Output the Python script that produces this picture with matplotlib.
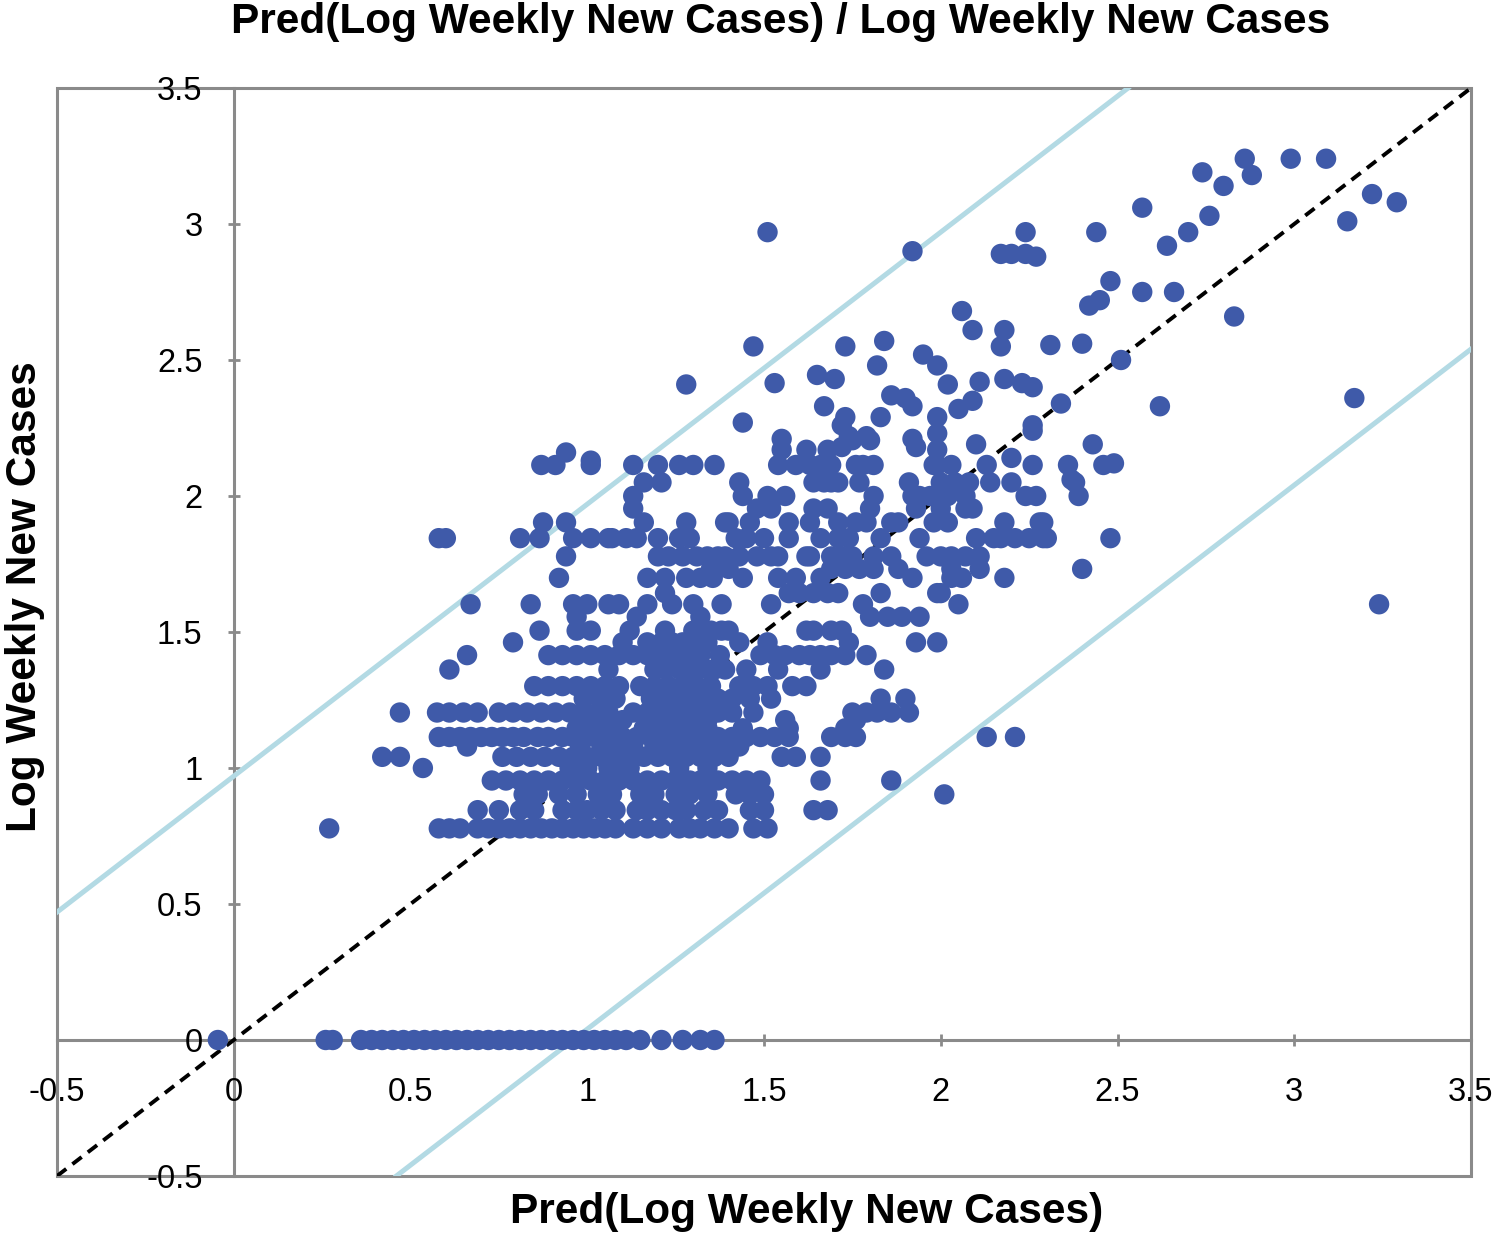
import numpy as np
import matplotlib
matplotlib.use("Agg")
import matplotlib.pyplot as plt
from matplotlib.patches import Rectangle

plt.rcParams['font.family'] = ['Liberation Sans', 'DejaVu Sans']

# ---------------- data ----------------
title = "Pred(Log Weekly New Cases) / Log Weekly New Cases"
x_label = "Pred(Log Weekly New Cases)"
y_label = "Log Weekly New Cases"
tick_values = [-0.5, 0, 0.5, 1, 1.5, 2, 2.5, 3, 3.5]
tick_labels = ["-0.5", "0", "0.5", "1", "1.5", "2", "2.5", "3", "3.5"]
band_offsets = [0.97, -0.96]   # light blue limits: obs = pred + offset

# observed level 0 (zero cases)
pred_obs_0 = [-0.045, 0.26, 0.28, 0.36, 0.39, 0.42, 0.45, 0.48, 0.51, 0.54, 0.57,
              0.60, 0.63, 0.66, 0.69, 0.72, 0.75, 0.78, 0.81, 0.84, 0.87, 0.90,
              0.93, 0.96, 0.99, 1.02, 1.05, 1.08, 1.11, 1.15, 1.21, 1.27, 1.32, 1.36]

# observed levels (log10 of small counts) and predictions at each level
obs_levels = [0.778, 0.845, 0.903, 0.954, 1.0, 1.041, 1.079, 1.114, 1.146, 1.176,
              1.204, 1.255, 1.301, 1.362, 1.415, 1.462, 1.505, 1.556, 1.602, 1.643,
              1.699, 1.732, 1.778, 1.845, 1.903, 1.954, 2.0, 2.05, 2.114]
pred_0778 = [0.27, 0.58, 0.61, 0.64, 0.69, 0.72, 0.75, 0.78, 0.81, 0.84, 0.87, 0.90,
             0.93, 0.96, 0.99, 1.02, 1.05, 1.08, 1.13, 1.17, 1.21, 1.26, 1.29, 1.32,
             1.36, 1.40, 1.47, 1.51]
pred_0845 = [0.69, 0.75, 0.81, 0.85, 0.93, 0.97, 1.00, 1.04, 1.08, 1.14, 1.17, 1.21,
             1.25, 1.28, 1.33, 1.37, 1.46, 1.50, 1.64, 1.68]
pred_0903 = [0.82, 0.86, 0.92, 0.97, 1.03, 1.07, 1.15, 1.19, 1.25, 1.29, 1.34, 1.42,
             1.46, 1.50, 2.01]
pred_0954 = [0.73, 0.77, 0.81, 0.85, 0.89, 0.93, 0.97, 1.01, 1.05, 1.09, 1.13, 1.17,
             1.21, 1.25, 1.29, 1.32, 1.37, 1.41, 1.45, 1.49, 1.66, 1.86]
pred_1000 = [0.535, 0.95, 1.00, 1.06, 1.09, 1.12, 1.26, 1.34]
pred_1041 = [0.42, 0.47, 0.76, 0.80, 0.84, 0.88, 0.92, 0.96, 1.00, 1.04, 1.08, 1.12,
             1.16, 1.20, 1.24, 1.28, 1.32, 1.36, 1.40, 1.55, 1.59, 1.66]
pred_1079 = [0.66, 0.98, 1.04, 1.07, 1.10, 1.13, 1.19, 1.23, 1.27, 1.30, 1.33, 1.36,
             1.39, 1.43]
pred_1114 = [0.58, 0.61, 0.64, 0.67, 0.70, 0.73, 0.76, 0.79, 0.82, 0.86, 0.89, 0.93,
             0.96, 1.00, 1.03, 1.06, 1.10, 1.14, 1.18, 1.22, 1.26, 1.30, 1.37, 1.41,
             1.45, 1.49, 1.53, 1.57, 1.69, 1.73, 1.76, 2.13, 2.21]
pred_1146 = [0.97, 1.01, 1.05, 1.08, 1.16, 1.21, 1.24, 1.27, 1.29, 1.31, 1.34, 1.44,
             1.57, 1.73]
pred_1176 = [0.98, 1.02, 1.06, 1.10, 1.17, 1.20, 1.25, 1.28, 1.31, 1.34, 1.56, 1.76]
pred_1204 = [0.47, 0.575, 0.61, 0.65, 0.69, 0.75, 0.79, 0.83, 0.87, 0.91, 0.95, 0.99,
             1.03, 1.06, 1.13, 1.17, 1.21, 1.25, 1.29, 1.33, 1.37, 1.41, 1.47, 1.75,
             1.79, 1.82, 1.86, 1.91]
pred_1255 = [0.99, 1.035, 1.08, 1.18, 1.21, 1.23, 1.26, 1.28, 1.31, 1.33, 1.37, 1.41,
             1.46, 1.52, 1.83, 1.90]
pred_1301 = [0.85, 0.89, 0.93, 0.97, 1.01, 1.05, 1.09, 1.15, 1.19, 1.23, 1.27, 1.31,
             1.35, 1.43, 1.47, 1.51, 1.58, 1.62]
pred_1362 = [0.61, 1.06, 1.19, 1.22, 1.26, 1.29, 1.31, 1.34, 1.36, 1.39, 1.45, 1.54,
             1.66, 1.84]
pred_1415 = [0.66, 0.89, 0.93, 0.97, 1.01, 1.05, 1.09, 1.13, 1.17, 1.21, 1.24, 1.28,
             1.32, 1.375, 1.49, 1.53, 1.56, 1.60, 1.63, 1.66, 1.69, 1.73, 1.79]
pred_1462 = [0.79, 1.10, 1.17, 1.21, 1.24, 1.27, 1.31, 1.34, 1.43, 1.51, 1.74, 1.93,
             1.99]
pred_1505 = [0.865, 0.97, 1.01, 1.12, 1.22, 1.30, 1.35, 1.38, 1.40, 1.62, 1.64, 1.69,
             1.72]
pred_1556 = [0.97, 1.14, 1.32, 1.80, 1.85, 1.89, 1.94]
pred_1602 = [0.67, 0.84, 0.96, 1.00, 1.06, 1.09, 1.17, 1.24, 1.30, 1.38, 1.52, 1.78,
             2.05, 3.24]
pred_1643 = [1.22, 1.57, 1.60, 1.64, 1.68, 1.71, 1.83, 1.99, 2.00]
pred_1699 = [0.92, 1.17, 1.22, 1.28, 1.32, 1.355, 1.44, 1.54, 1.59, 1.66, 1.92, 2.03,
             2.06, 2.18]
pred_1732 = [1.35, 1.40, 1.69, 1.73, 1.77, 1.81, 1.88, 2.03, 2.11, 2.40]
pred_1778 = [0.94, 1.20, 1.23, 1.27, 1.31, 1.34, 1.37, 1.39, 1.43, 1.48, 1.52, 1.54,
             1.62, 1.63, 1.69, 1.72, 1.75, 1.81, 1.86, 1.96, 2.00, 2.03, 2.07, 2.11]
pred_1845 = [0.58, 0.60, 0.81, 0.865, 0.96, 1.01, 1.06, 1.07, 1.11, 1.14, 1.20, 1.26,
             1.29, 1.42, 1.45, 1.50, 1.57, 1.66, 1.71, 1.74, 1.83, 1.94, 2.10, 2.15,
             2.17, 2.21, 2.25, 2.29, 2.30, 2.48]
pred_1903 = [0.875, 0.94, 1.16, 1.28, 1.39, 1.40, 1.46, 1.57, 1.63, 1.71, 1.76, 1.79,
             1.86, 1.88, 1.98, 2.02, 2.18, 2.28, 2.29]
pred_1954 = [1.13, 1.48, 1.52, 1.64, 1.68, 1.80, 1.93, 2.00, 2.07, 2.09]
pred_2000 = [1.13, 1.44, 1.51, 1.56, 1.81, 1.92, 1.94, 1.97, 2.02, 2.07, 2.24, 2.27,
             2.39]
pred_2050 = [1.16, 1.21, 1.43, 1.64, 1.67, 1.69, 1.71, 1.77, 1.91, 2.00, 2.04, 2.08,
             2.14, 2.20, 2.38]
pred_2114 = [0.87, 0.91, 1.01, 1.13, 1.20, 1.26, 1.30, 1.36, 1.54, 1.59, 1.63, 1.66,
             1.69, 1.76, 1.78, 1.81, 1.98, 1.99, 2.03, 2.13, 2.26, 2.36, 2.46]

# sparse upper points (pred, observed)
upper_pred = [0.94, 1.01, 1.55, 1.62, 1.68, 1.72, 1.93, 1.99, 2.10, 2.20, 2.37, 2.49,
              1.55, 1.74, 1.75, 1.79, 1.80, 1.92, 1.99, 2.26, 2.43,
              1.44, 1.72, 1.73, 1.83, 1.99, 2.26, 1.67, 1.86, 1.90, 1.92, 2.34, 2.62,
              3.17, 2.05, 2.09, 1.28, 1.53, 1.65, 1.70, 2.02, 2.11, 2.18, 2.23, 2.26,
              1.47, 1.73, 1.84, 1.82, 1.95, 1.99, 2.51, 2.17, 2.31, 2.40, 2.06, 2.09,
              2.18, 2.83, 2.42, 2.45, 2.48, 2.57, 2.66, 1.92, 2.17, 2.20, 2.24, 2.27,
              1.51, 2.24, 2.44, 2.64, 2.70, 2.57, 2.76, 3.15, 3.22, 3.29, 2.74, 2.80,
              2.88, 2.86, 2.99, 3.09]
upper_obs = [2.16, 2.13, 2.17, 2.17, 2.17, 2.18, 2.18, 2.17, 2.19, 2.14, 2.06, 2.12,
             2.21, 2.22, 2.205, 2.22, 2.205, 2.21, 2.23, 2.24, 2.19,
             2.27, 2.26, 2.29, 2.29, 2.29, 2.26, 2.33, 2.37, 2.36, 2.33, 2.34, 2.33,
             2.36, 2.32, 2.35, 2.41, 2.415, 2.445, 2.43, 2.41, 2.42, 2.43, 2.415, 2.40,
             2.55, 2.55, 2.57, 2.48, 2.52, 2.48, 2.50, 2.55, 2.555, 2.56, 2.68, 2.61,
             2.61, 2.66, 2.70, 2.72, 2.79, 2.75, 2.75, 2.90, 2.89, 2.89, 2.89, 2.88,
             2.97, 2.97, 2.97, 2.92, 2.97, 3.06, 3.03, 3.01, 3.11, 3.08, 3.19, 3.14,
             3.18, 3.24, 3.24, 3.24]

row_preds = [pred_0778, pred_0845, pred_0903, pred_0954, pred_1000, pred_1041,
             pred_1079, pred_1114, pred_1146, pred_1176, pred_1204, pred_1255,
             pred_1301, pred_1362, pred_1415, pred_1462, pred_1505, pred_1556,
             pred_1602, pred_1643, pred_1699, pred_1732, pred_1778, pred_1845,
             pred_1903, pred_1954, pred_2000, pred_2050, pred_2114]

pred_all = list(pred_obs_0)
obs_all = [0.0] * len(pred_obs_0)
for level, preds in zip(obs_levels, row_preds):
    pred_all += preds
    obs_all += [level] * len(preds)
pred_all += upper_pred
obs_all += upper_obs

# ---------------- drawing ----------------
axis_grey = '#8a8a8a'
fig = plt.figure(figsize=(15, 12.41), dpi=100)
ax = fig.add_axes([57 / 1500, 1 - 1176 / 1241, (1471 - 57) / 1500, (1176 - 88) / 1241])
ax.set_xlim(-0.5, 3.5)
ax.set_ylim(-0.5, 3.5)

ax.add_patch(Rectangle((0, 0), 1, 1, transform=ax.transAxes, fill=False,
                       ec=axis_grey, lw=2.2, clip_on=False, zorder=1))
for side in ['top', 'right']:
    ax.spines[side].set_visible(False)
for side in ['left', 'bottom']:
    ax.spines[side].set_position(('data', 0))
    ax.spines[side].set_color(axis_grey)
    ax.spines[side].set_linewidth(2.2)
    ax.spines[side].set_zorder(1.5)

ax.set_xticks(tick_values)
ax.set_xticklabels(tick_labels)
ax.set_yticks(tick_values)
ax.set_yticklabels(tick_labels)
ax.tick_params(direction='inout', length=9, width=2, color=axis_grey,
               labelsize=23.5, labelcolor='black')
ax.tick_params(axis='x', pad=22)
ax.tick_params(axis='y', pad=18)

for off in band_offsets:
    ax.axline((0, off), slope=1, color='#b3dae4', lw=3.6, zorder=2)
ax.axline((0, 0), slope=1, color='black', lw=2.8, ls=(0, (3, 2)), zorder=3)

ax.scatter(pred_all, obs_all, s=215, color='#3f5aa9', edgecolors='none',
           zorder=4, clip_on=False)

fig.text(781 / 1500, 1 - 22 / 1241, title, ha='center', va='center',
         fontsize=30.5, fontweight='bold')
fig.text(807 / 1500, 1 - 1212 / 1241, x_label, ha='center', va='center',
         fontsize=30.5, fontweight='bold')
fig.text(25 / 1500, 1 - 597 / 1241, y_label, ha='center', va='center',
         rotation=90, fontsize=30.5, fontweight='bold')

fig.savefig('out.png', dpi=100)
